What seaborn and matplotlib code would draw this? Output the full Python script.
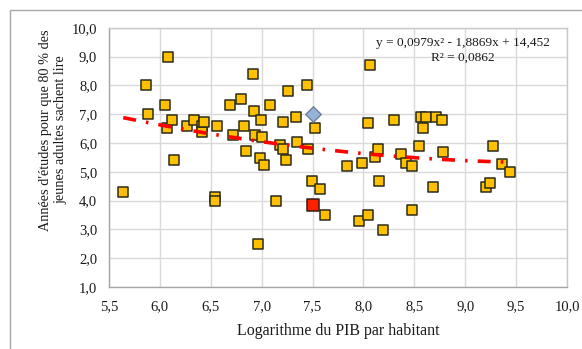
import matplotlib
matplotlib.use("Agg")
import matplotlib.pyplot as plt
from matplotlib.ticker import FuncFormatter, MultipleLocator
from matplotlib.patches import Rectangle
import seaborn as sns
import pandas as pd

# --- data -----------------------------------------------------------------
log_pib = [5.64, 5.86, 5.88, 6.05, 6.08, 6.07, 6.12, 6.14, 6.27, 6.34, 6.41, 6.41,
           6.43, 6.54, 6.54, 6.56, 6.69, 6.72, 6.80, 6.83, 6.85, 6.91, 6.92, 6.93,
           6.96, 6.98, 6.99, 7.00, 7.02, 7.08, 7.14, 7.18, 7.21, 7.21, 7.24, 7.26,
           7.34, 7.35, 7.45, 7.46, 7.49, 7.52, 7.57, 7.62, 7.84, 7.96, 7.99, 8.04,
           8.04, 8.06, 8.11, 8.14, 8.15, 8.19, 8.30, 8.37, 8.42, 8.48, 8.48, 8.55,
           8.57, 8.59, 8.61, 8.68, 8.71, 8.77, 8.78, 9.20, 9.24, 9.27, 9.36, 9.44]
annees = [4.28, 8.00, 7.00, 7.32, 9.00, 6.51, 6.79, 5.42, 6.59, 6.79, 6.58, 6.38,
          6.71, 4.11, 3.99, 6.59, 7.32, 6.29, 7.52, 6.59, 5.71, 8.39, 7.10, 6.29,
          2.49, 5.49, 6.79, 6.21, 5.22, 7.32, 3.98, 5.92, 5.79, 6.71, 5.42, 7.82,
          6.90, 6.02, 8.00, 5.78, 4.67, 6.51, 4.41, 3.49, 5.20, 3.30, 5.29, 3.49,
          6.69, 8.70, 5.50, 5.79, 4.67, 2.99, 6.79, 5.60, 5.30, 5.20, 3.67, 5.90,
          6.90, 6.51, 6.90, 4.48, 6.90, 6.79, 5.70, 4.48, 4.60, 5.90, 5.27, 4.98]
diamond_x = [7.50]
diamond_y = [7.00]
red_x = [7.50]
red_y = [3.85]
equation_text = "y = 0,0979x\u00b2 - 1,8869x + 14,452"
r2_text = "R\u00b2 = 0,0862"
xlabel = "Logarithme du PIB par habitant"
ylabel = "Années d'études pour que 80 % des\njeunes adultes sachent lire"

df = pd.DataFrame({"x": log_pib, "y": annees})

# --- style ----------------------------------------------------------------
sns.set_theme(style="whitegrid")
plt.rcParams["font.family"] = ["Liberation Serif", "DejaVu Serif"]

W, H = 582, 349
fig = plt.figure(figsize=(W / 100, H / 100), dpi=100)
ax = fig.add_axes([109 / W, 1 - 287 / H, (567 - 109) / W, (287 - 27.7) / H])

# outer chart frame (partly cropped)
fig.patches.append(Rectangle((10.5 / W, -0.1), 1.2, 1 - 10.5 / H + 0.1,
                             transform=fig.transFigure, fill=False,
                             edgecolor="#A6A6A6", linewidth=1.0))

sns.regplot(data=df, x="x", y="y", order=2, ci=None, scatter=False, truncate=True,
            ax=ax, line_kws=dict(color="#FF0000", linewidth=2.6,
                                 linestyle=(0, (3.6, 2.8, 0.7, 2.8)), zorder=5))
sns.scatterplot(data=df, x="x", y="y", marker="s", s=44, color="#FFC000",
                edgecolor="#2B2B1A", linewidth=1.1, ax=ax, zorder=4)
sns.scatterplot(x=diamond_x, y=diamond_y, marker="D", s=62, color="#95B3D7",
                edgecolor="#6F7F99", linewidth=1.0, ax=ax, zorder=4)
sns.scatterplot(x=red_x, y=red_y, marker="s", s=78, color="#FF2000",
                edgecolor="#3A1A10", linewidth=1.1, ax=ax, zorder=4)

ax.set_xlim(5.5, 10.0)
ax.set_ylim(1.0, 10.0)
ax.xaxis.set_major_locator(MultipleLocator(0.5))
ax.yaxis.set_major_locator(MultipleLocator(1.0))
fmt = FuncFormatter(lambda v, p: f"{v:.1f}".replace(".", ","))
ax.xaxis.set_major_formatter(fmt)
ax.yaxis.set_major_formatter(fmt)
ax.tick_params(axis="both", length=0, labelsize=10.5, colors="#1a1a1a")
ax.tick_params(axis="x", pad=9.5)
ax.tick_params(axis="y", pad=8.5)
ax.grid(True, color="#D9D9D9", linewidth=1.0)
ax.set_facecolor("white")
for s in ax.spines.values():
    s.set_visible(True)
    s.set_color("#C8C8C8")
    s.set_linewidth(1.0)
ax.spines["left"].set_color("#A6A6A6")
ax.spines["bottom"].set_color("#A6A6A6")

ax.set_xlabel(xlabel, fontsize=11.5, color="#1a1a1a", labelpad=7)
ax.set_ylabel(ylabel, fontsize=10.3, color="#1a1a1a", linespacing=1.2)
ax.yaxis.set_label_coords((67 - 109) / 458, (287 - 130) / 259.3)

ax.text(463 / W, 1 - 43 / H, equation_text, transform=fig.transFigure,
        ha="center", va="center", fontsize=9.6, color="#1a1a1a")
ax.text(463 / W, 1 - 58 / H, r2_text, transform=fig.transFigure,
        ha="center", va="center", fontsize=9.6, color="#1a1a1a")

fig.savefig("out.png", dpi=100, facecolor="white")
